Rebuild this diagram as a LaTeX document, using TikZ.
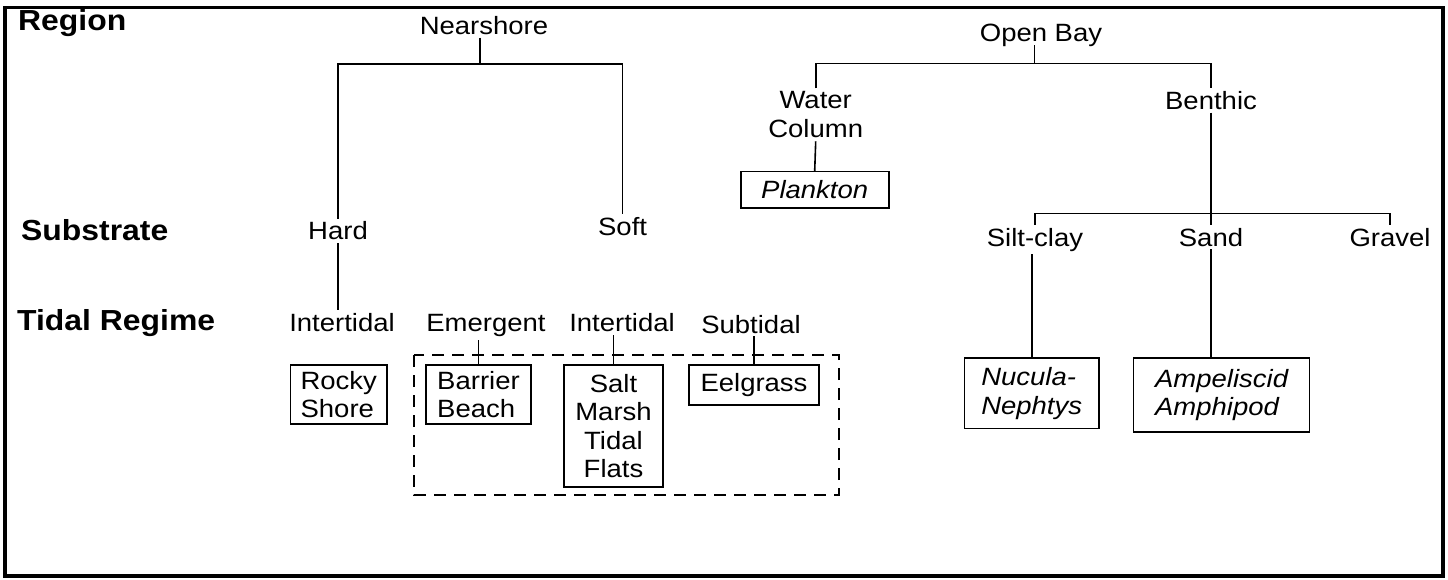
\documentclass[tikz,border=0pt]{standalone}
\usepackage{fontspec}
\setmainfont{Liberation Sans}[FakeStretch=1.1]
\begin{document}
\begin{tikzpicture}[x=1pt,y=-1pt,
  lbl/.style={inner xsep=0pt, inner ysep=3pt, font=\fontsize{25}{29}\selectfont},
  hdr/.style={inner sep=0pt, anchor=base west, font=\bfseries\fontsize{29}{33}\selectfont},
  leaf/.style={draw, line width=1.6pt, inner sep=0pt, font=\fontsize{25}{28.5}\selectfont},
  ileaf/.style={leaf, font=\fontsize{25}{28.5}\selectfont\itshape},
  conn/.style={line width=1.6pt},
  grp/.style={line width=1.6pt, dash pattern=on 12pt off 8pt}
]
\useasboundingbox (0,0) rectangle (1448,580);
\draw[line width=3.5pt] (5,7.5) rectangle (1443,576);

% level headers
\node[hdr] (region) at (18,31) {Region};
\node[hdr] (substrate) at (21,240.7) {Substrate};
\node[hdr] (tidal) at (17,330.7) {Tidal Regime};

% nearshore branch
\node[lbl, anchor=base] (nearshore) at (484,34.3) {Nearshore};
\node[lbl, anchor=base] (hard) at (338,240) {Hard};
\node[lbl, anchor=base] (soft) at (622.6,235) {Soft};
\node[lbl, anchor=base] (intl) at (342,331.7) {Intertidal};
\node[lbl, anchor=base] (emergent) at (486,331.7) {Emergent};
\node[lbl, anchor=base] (intm) at (622,331.7) {Intertidal};
\node[lbl, anchor=base] (subtidal) at (751,333) {Subtidal};

\node[leaf, minimum width=96.4pt, minimum height=59pt, align=left] (rocky) at (338.8,394.5) {Rocky\\Shore};
\node[leaf, minimum width=105pt, minimum height=59pt, align=left] (barrier) at (478.5,394.5) {Barrier\\Beach};
\node[leaf, minimum width=99pt, minimum height=122pt, align=center] (salt) at (613.5,426) {Salt\\Marsh\\Tidal\\Flats};
\node[leaf, minimum width=130pt, minimum height=40pt] (eel) at (754,385) {Eelgrass};

\draw[grp] (414,355) rectangle (839,495);

% open bay branch
\node[lbl, anchor=base] (openbay) at (1041,41.7) {Open Bay};
\node[lbl, align=center] (water) at (815.7,114.85) {Water\\Column};
\node[lbl, anchor=base] (benthic) at (1211,109.3) {Benthic};
\node[lbl, anchor=base] (siltclay) at (1035,246) {Silt-clay};
\node[lbl, anchor=base] (sand) at (1211,246) {Sand};
\node[lbl, anchor=base] (gravel) at (1390,246) {Gravel};

\node[ileaf, minimum width=148pt, minimum height=36.6pt] (plankton) at (814.7,190) {Plankton};
\node[ileaf, minimum width=134.5pt, minimum height=70.7pt, align=left] (nucula) at (1031.7,393.3) {Nucula-\\Nephtys};
\node[ileaf, minimum width=176pt, minimum height=74pt, align=left] (ampel) at (1221.6,395) {Ampeliscid\\Amphipod};

% connectors
\coordinate (nsj) at (480,64);
\draw[conn] (nearshore.south -| nsj) -- (nsj);
\draw[conn] (hard.north) |- (nsj) -| (soft.north);
\draw[conn] (hard.south) -- (hard.south |- intl.north);
\draw[conn] (barrier.north |- emergent.south) -- (barrier.north);
\draw[conn] (salt.north |- intm.south) -- (salt.north);
\draw[conn] (eel.north |- subtidal.south) -- (eel.north);

\coordinate (obj) at (1034.6,63.5);
\draw[conn] ([yshift=-3.5pt]openbay.base -| obj) -- (obj);
\draw[conn] (water.north) |- (obj) -| (benthic.north);
\draw[conn] (water.south) -- (plankton.north);
\draw[conn] (benthic.south) -- (sand.north);
\coordinate (bj) at (1211,213.7);
\draw[conn] (siltclay.north) |- (bj) -| (gravel.north);
\draw[conn] (nucula.north |- siltclay.south) -- (nucula.north);
\draw[conn] (sand.south) -- (sand.south |- ampel.north);
\end{tikzpicture}
\end{document}
